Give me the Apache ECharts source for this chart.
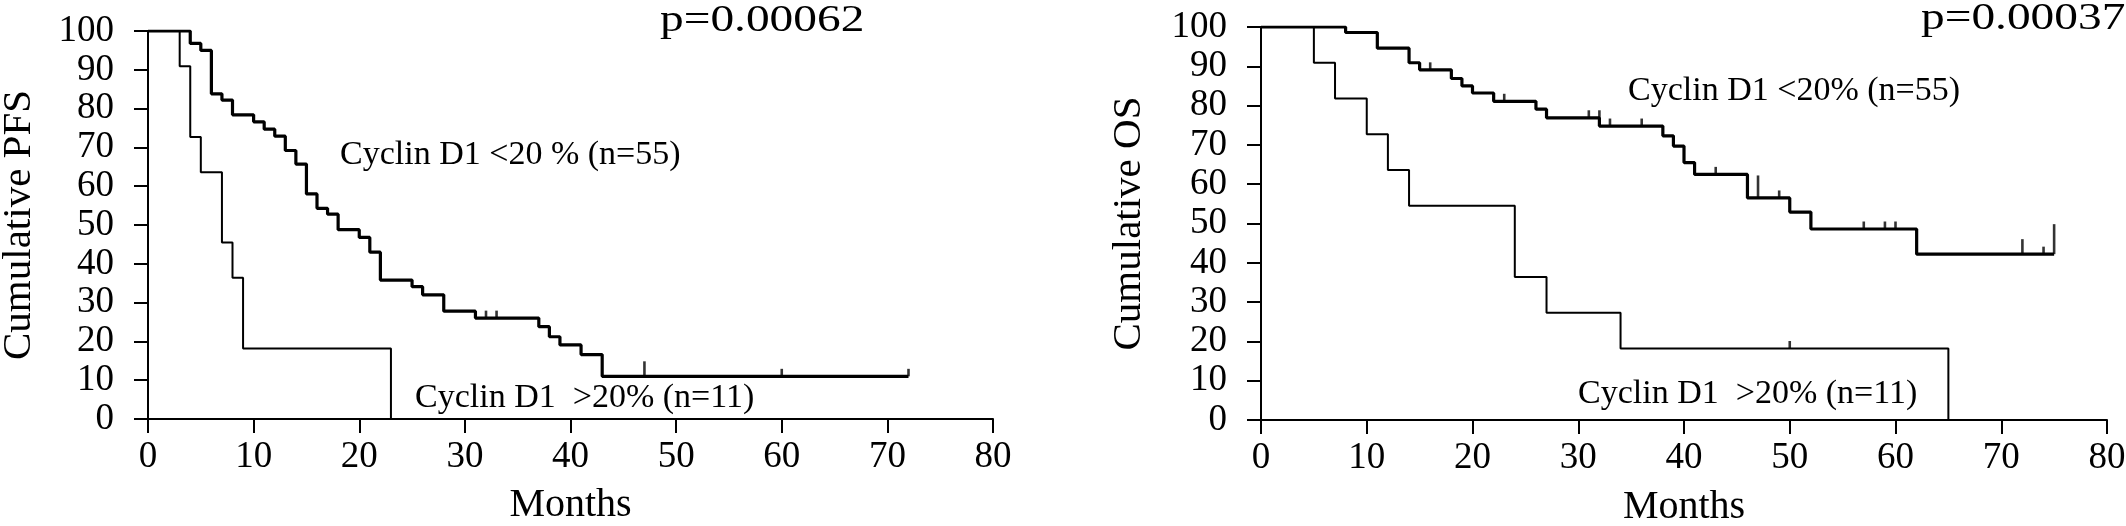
<!DOCTYPE html>
<html>
<head>
<meta charset="utf-8">
<title>Cyclin D1 PFS / OS</title>
<script src="https://cdn.jsdelivr.net/npm/echarts@6/dist/echarts.min.js"></script>
<style>
  html, body { margin: 0; padding: 0; background: #fff; }
  #chart { width: 2126px; height: 526px; }
</style>
</head>
<body>
<div id="chart"></div>
<script>
// PFS, Cyclin D1 <20% (n=55): event times (months) and cumulative %
var pfsLowT = [0, 4, 5, 6, 7, 8, 10, 11, 12, 13, 14, 15, 16, 17, 18, 20, 21, 22, 25, 26, 28, 31, 37, 38, 39, 41, 43, 72];
var pfsLowS = [100, 96.8, 95.0, 83.8, 82.2, 78.4, 76.6, 74.7, 72.9, 69.2, 65.7, 58.0, 54.3, 52.8, 48.8, 46.8, 43.0, 35.8, 34.1, 32.0, 27.8, 26.0, 23.8, 21.2, 19.1, 16.6, 11.0, 11.0];
var pfsLowCensT = [32, 33, 47, 60, 72];
var pfsLowCensN = [1, 1, 2, 1, 1];

// PFS, Cyclin D1 >20% (n=11)
var pfsHighT = [0, 3, 4, 5, 7, 8, 9, 23];
var pfsHighS = [100, 90.9, 72.7, 63.6, 45.5, 36.4, 18.2, 0];

// OS, Cyclin D1 <20% (n=55)
var osLowT = [0, 8, 11, 14, 15, 18, 19, 20, 22, 26, 27, 32, 38, 39, 40, 41, 46, 50, 52, 62, 75];
var osLowS = [100, 98.6, 94.6, 90.9, 89.1, 86.9, 85.0, 83.2, 81.1, 79.1, 76.9, 74.8, 72.3, 69.7, 65.5, 62.5, 56.5, 52.9, 48.6, 42.2, 42.2];
var osLowCensT = [16, 23, 31, 32, 33, 36, 43, 47, 49, 57, 59, 60, 72, 74, 75];
var osLowCensN = [1, 1, 1, 1, 1, 1, 1, 3, 1, 1, 1, 1, 2, 1, 4];

// OS, Cyclin D1 >20% (n=11)
var osHighT = [0, 5, 7, 10, 12, 14, 24, 27, 34, 65];
var osHighS = [100, 90.9, 81.8, 72.7, 63.6, 54.5, 36.4, 27.3, 18.2, 0];
var osHighCensT = [50];
var osHighCensN = [1];

var pValues = ["p=0.00062", "p=0.00037"];
var yNames = ["Cumulative PFS", "Cumulative OS"];
var lowLabel = "Cyclin D1 <20% (n=55)";
var lowLabelPfs = "Cyclin D1 <20 % (n=55)";
var highLabel = "Cyclin D1  >20% (n=11)";

var serif = '"Liberation Serif", "Times New Roman", serif';

function zip(t, s) {
      return t.map(function (x, i) {
            return [x, s[i]];
      });
}

// level of the curve just before time t (censor marks sit on it)
function censorPoints(t, s, ct, cn) {
      return ct.map(function (c, i) {
            var v = s[0];
            for (var k = 0; k < t.length; k++) {
                  if (t[k] < c) v = s[k];
            }
            return [c, v, cn[i]];
      });
}

function xAxisOpt(gi, nameGap) {
      return {
            type: "value",
            gridIndex: gi,
            min: 0,
            max: 80,
            interval: 10,
            name: "Months",
            nameLocation: "middle",
            nameGap: nameGap,
            nameTextStyle: { fontFamily: serif, fontSize: 40, color: "#000" },
            axisLine: { show: true, onZero: false, lineStyle: { color: "#000", width: 2 } },
            axisTick: { show: true, inside: false, length: 14, lineStyle: { color: "#000", width: 2 } },
            axisLabel: { margin: 20, fontFamily: serif, fontSize: 37, color: "#000" },
            splitLine: { show: false },
      };
}

function yAxisOpt(gi, name, nameGap) {
      return {
            type: "value",
            gridIndex: gi,
            min: 0,
            max: 100,
            interval: 10,
            name: name,
            nameLocation: "middle",
            nameRotate: 90,
            nameGap: nameGap,
            nameTextStyle: { fontFamily: serif, fontSize: 41, color: "#000" },
            axisLine: { show: true, onZero: false, lineStyle: { color: "#000", width: 2 } },
            axisTick: { show: true, inside: false, length: 14, lineStyle: { color: "#000", width: 2 } },
            axisLabel: { margin: 34, fontFamily: serif, fontSize: 37, color: "#000" },
            splitLine: { show: false },
      };
}

function stepSeries(gi, data, width, z) {
      return {
            type: "line",
            xAxisIndex: gi,
            yAxisIndex: gi,
            step: "end",
            data: data,
            symbol: "none",
            z: z,
            lineStyle: { color: "#000", width: width },
            silent: true,
      };
}

function censorSeries(gi, data) {
      return {
            type: "scatter",
            xAxisIndex: gi,
            yAxisIndex: gi,
            data: data,
            symbol: "rect",
            symbolSize: function (v) {
                  return [2.6, 7.5 * v[2]];
            },
            symbolOffset: [0, "-50%"],
            itemStyle: { color: "#000" },
            z: 5,
            silent: true,
      };
}

function textEl(x, y, text, size, sx) {
      return {
            type: "text",
            x: x,
            y: y,
            scaleX: sx || 1,
            style: {
                  text: text,
                  font: size + "px " + serif,
                  fill: "#000",
                  align: "left",
                  verticalAlign: "middle",
            },
      };
}

var chart = echarts.init(document.getElementById("chart"), null, { renderer: "canvas" });

chart.setOption({
      animation: false,
      backgroundColor: "#fff",
      grid: [
            { left: 148, top: 31, width: 845, height: 388, outerBoundsMode: "none" },
            { left: 1261, top: 27, width: 846, height: 393, outerBoundsMode: "none" },
      ],
      xAxis: [xAxisOpt(0, 66), xAxisOpt(1, 67)],
      yAxis: [yAxisOpt(0, yNames[0], 108), yAxisOpt(1, yNames[1], 111)],
      series: [
            stepSeries(0, zip(pfsHighT, pfsHighS), 2, 3),
            stepSeries(0, zip(pfsLowT, pfsLowS), 3.2, 4),
            censorSeries(0, censorPoints(pfsLowT, pfsLowS, pfsLowCensT, pfsLowCensN)),
            stepSeries(1, zip(osHighT, osHighS), 2, 3),
            stepSeries(1, zip(osLowT, osLowS), 3.2, 4),
            censorSeries(1, censorPoints(osLowT, osLowS, osLowCensT, osLowCensN)),
            censorSeries(1, censorPoints(osHighT, osHighS, osHighCensT, osHighCensN)),
      ],
      graphic: [
            textEl(660, 21, pValues[0], 37, 1.28),
            textEl(1921, 19, pValues[1], 37, 1.28),
            textEl(340, 155, lowLabelPfs, 34),
            textEl(415, 398.5, highLabel, 34),
            textEl(1628, 91, lowLabel, 34),
            textEl(1578, 394, highLabel, 34),
      ],
});
</script>
</body>
</html>
